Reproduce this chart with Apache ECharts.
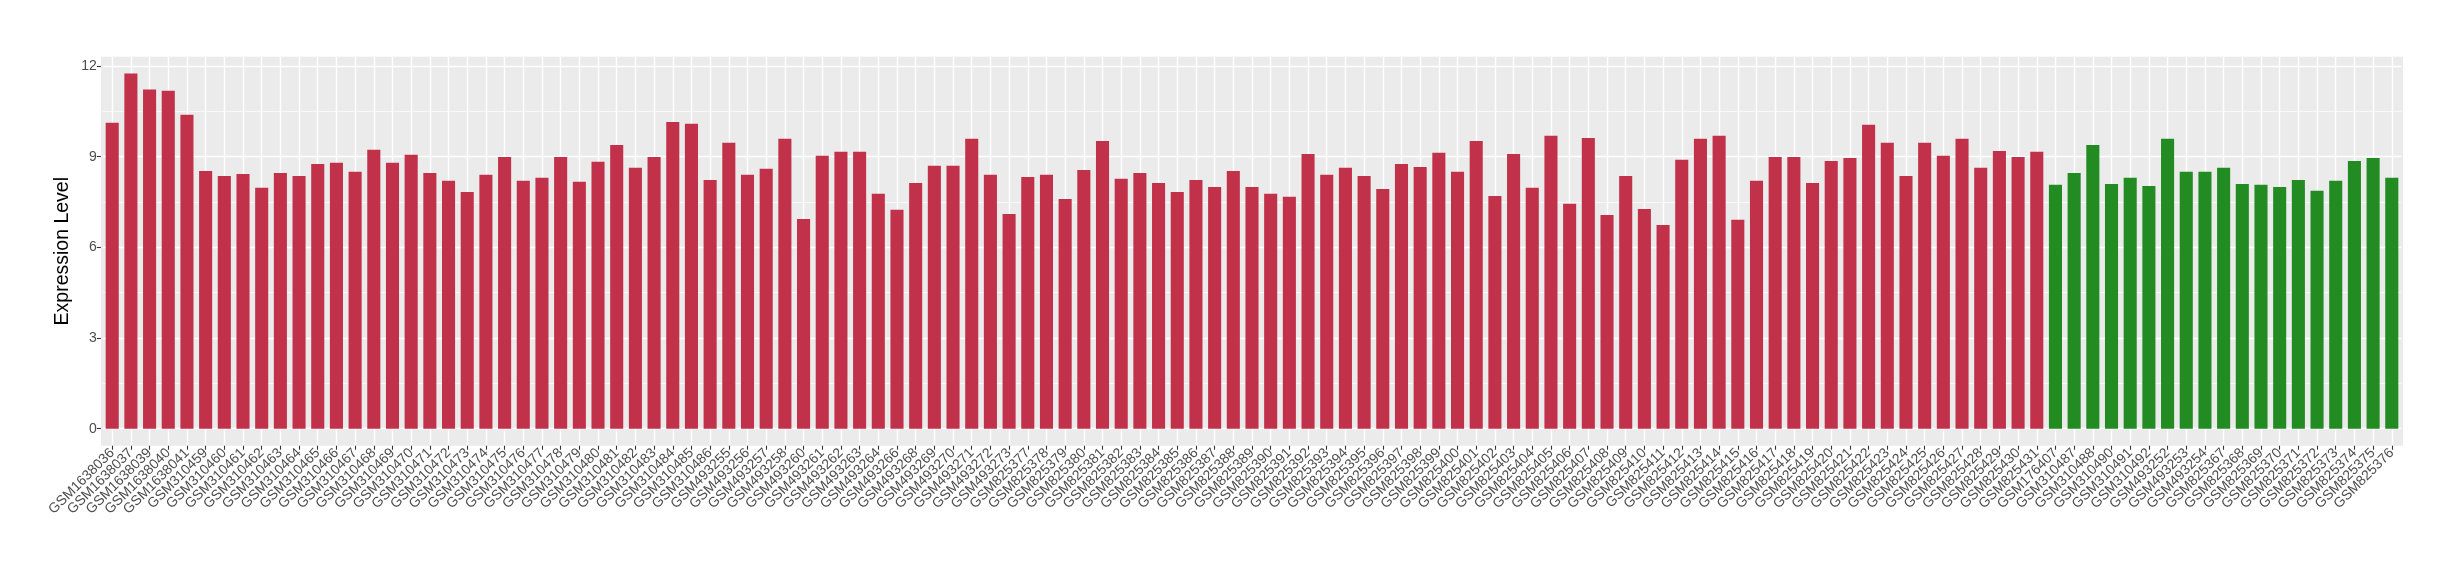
<!DOCTYPE html>
<html><head><meta charset="utf-8">
<script src="https://cdn.jsdelivr.net/npm/echarts@6/dist/echarts.min.js"></script>
<style>html,body{margin:0;padding:0;background:#fff}#c{width:2460px;height:580px}</style>
</head><body><div id="c"></div>
<script>
const redSamples = ['GSM1638036','GSM1638037','GSM1638039','GSM1638040','GSM1638041',
'GSM310459','GSM310460','GSM310461','GSM310462','GSM310463','GSM310464','GSM310465','GSM310466','GSM310467','GSM310468',
'GSM310469','GSM310470','GSM310471','GSM310472','GSM310473','GSM310474','GSM310475','GSM310476','GSM310477','GSM310478',
'GSM310479','GSM310480','GSM310481','GSM310482','GSM310483','GSM310484','GSM310485','GSM310486',
'GSM493255','GSM493256','GSM493257','GSM493258','GSM493260','GSM493261','GSM493262','GSM493263','GSM493264','GSM493266',
'GSM493268','GSM493269','GSM493270','GSM493271','GSM493272','GSM493273',
'GSM825377','GSM825378','GSM825379','GSM825380','GSM825381','GSM825382','GSM825383','GSM825384','GSM825385','GSM825386',
'GSM825387','GSM825388','GSM825389','GSM825390','GSM825391','GSM825392','GSM825393','GSM825394','GSM825395','GSM825396',
'GSM825397','GSM825398','GSM825399','GSM825400','GSM825401','GSM825402','GSM825403','GSM825404','GSM825405','GSM825406',
'GSM825407','GSM825408','GSM825409','GSM825410','GSM825411','GSM825412','GSM825413','GSM825414','GSM825415','GSM825416',
'GSM825417','GSM825418','GSM825419','GSM825420','GSM825421','GSM825422','GSM825423','GSM825424','GSM825425','GSM825426',
'GSM825427','GSM825428','GSM825429','GSM825430','GSM825431'];
const redValues = [10.12, 11.75, 11.22, 11.18, 10.39, 8.53, 8.36, 8.43, 7.97, 8.46, 8.36, 8.76, 8.80, 8.50, 9.23, 8.80, 9.06, 8.46, 8.20, 7.83, 8.40, 8.99, 8.20, 8.30, 8.99,
8.17, 8.83, 9.39, 8.63, 8.99, 10.15, 10.09, 8.23, 9.46, 8.40, 8.60, 9.59, 6.94, 9.03, 9.16, 9.16, 7.77, 7.24, 8.13, 8.70, 8.70, 9.59, 8.40, 7.10,
8.33, 8.40, 7.60, 8.56, 9.52, 8.27, 8.46, 8.13, 7.83, 8.23, 8.00, 8.53, 8.00, 7.77, 7.67, 9.09, 8.40, 8.63, 8.36, 7.93, 8.76, 8.66, 9.13, 8.50, 9.52,
7.70, 9.09, 7.97, 9.69, 7.44, 9.62, 7.07, 8.36, 7.27, 6.74, 8.90, 9.59, 9.69, 6.91, 8.20, 8.99, 8.99, 8.13, 8.86, 8.96, 10.06, 9.46, 8.36, 9.46, 9.03,
9.59, 8.63, 9.19, 8.99, 9.16];
const greenSamples = ['GSM176407','GSM310487','GSM310488','GSM310490','GSM310491','GSM310492','GSM493252','GSM493253','GSM493254',
'GSM825367','GSM825368','GSM825369','GSM825370','GSM825371','GSM825372','GSM825373','GSM825374','GSM825375','GSM825376'];
const greenValues = [8.07, 8.46, 9.39, 8.10, 8.30, 8.03, 9.59, 8.50, 8.50, 8.63, 8.10, 8.07, 8.00, 8.23, 7.87, 8.20, 8.86, 8.96, 8.30];
const yTicks = [0, 3, 6, 9, 12];

const categories = redSamples.concat(greenSamples);
const N = categories.length;
const blankR = new Array(greenSamples.length).fill('-');
const blankG = new Array(redSamples.length).fill('-');

// panel geometry
const PL = 101, PR = 2403, PT = 56.7, PB = 445.7;
const unit = (PR - PL) / (N - 1 + 1.2);
const y12 = 66, y0 = 428.7;

const chart = echarts.init(document.getElementById('c'));
chart.setOption({
  animation: false,
  backgroundColor: '#ffffff',
  graphic: [{type: 'rect', z: -10, silent: true,
    shape: {x: PL, y: PT, width: PR - PL, height: PB - PT},
    style: {fill: '#EBEBEB'}}],
  grid: [
    {left: PL + 0.1 * unit, width: N * unit, top: y12, height: y0 - y12, containLabel: false},
    {left: PL + 0.6 * unit, width: (N - 1) * unit, top: PT, height: PB - PT, containLabel: false}
  ],
  xAxis: [
    {gridIndex: 0, type: 'category', data: categories, boundaryGap: true, show: false},
    {gridIndex: 1, type: 'category', data: categories, boundaryGap: false,
      axisLine: {show: false},
      axisTick: {show: true, length: 4, lineStyle: {color: '#333333', width: 1.1}, interval: 0},
      axisLabel: {interval: 0, rotate: 45, margin: 5, color: '#4D4D4D', fontSize: 14,
        fontFamily: 'Liberation Sans, Arial, sans-serif', hideOverlap: false},
      splitLine: {show: true, interval: 0, lineStyle: {color: '#FFFFFF', width: 1.4}}
    }
  ],
  yAxis: [
    {gridIndex: 0, type: 'value', min: 0, max: 12, interval: 3, offset: 2,
      axisLine: {show: false},
      axisTick: {show: true, length: 4, lineStyle: {color: '#333333', width: 1.1}},
      axisLabel: {margin: 4, color: '#4D4D4D', fontSize: 14, fontFamily: 'Liberation Sans, Arial, sans-serif',
        formatter: v => yTicks.includes(v) ? String(v) : ''},
      splitLine: {show: true, lineStyle: {color: '#FFFFFF', width: 1.4}},
      minorTick: {show: false, splitNumber: 2},
      minorSplitLine: {show: true, lineStyle: {color: '#FFFFFF', width: 0.7}}
    },
    {gridIndex: 1, type: 'value', min: 0, max: 1,
      name: 'Expression Level', nameLocation: 'middle', nameRotate: 90, nameGap: 40,
      nameTextStyle: {color: '#000000', fontSize: 19.5, fontFamily: 'Liberation Sans, Arial, sans-serif'},
      axisLine: {show: false}, axisTick: {show: false}, axisLabel: {show: false}, splitLine: {show: false}
    }
  ],
  series: [
    {type: 'bar', xAxisIndex: 0, yAxisIndex: 0, data: redValues.concat(blankR),
      barWidth: '70%', barGap: '-100%', itemStyle: {color: '#C2314A'}},
    {type: 'bar', xAxisIndex: 0, yAxisIndex: 0, data: blankG.concat(greenValues),
      barWidth: '70%', barGap: '-100%', itemStyle: {color: '#228B22'}}
  ]
});
</script></body></html>
